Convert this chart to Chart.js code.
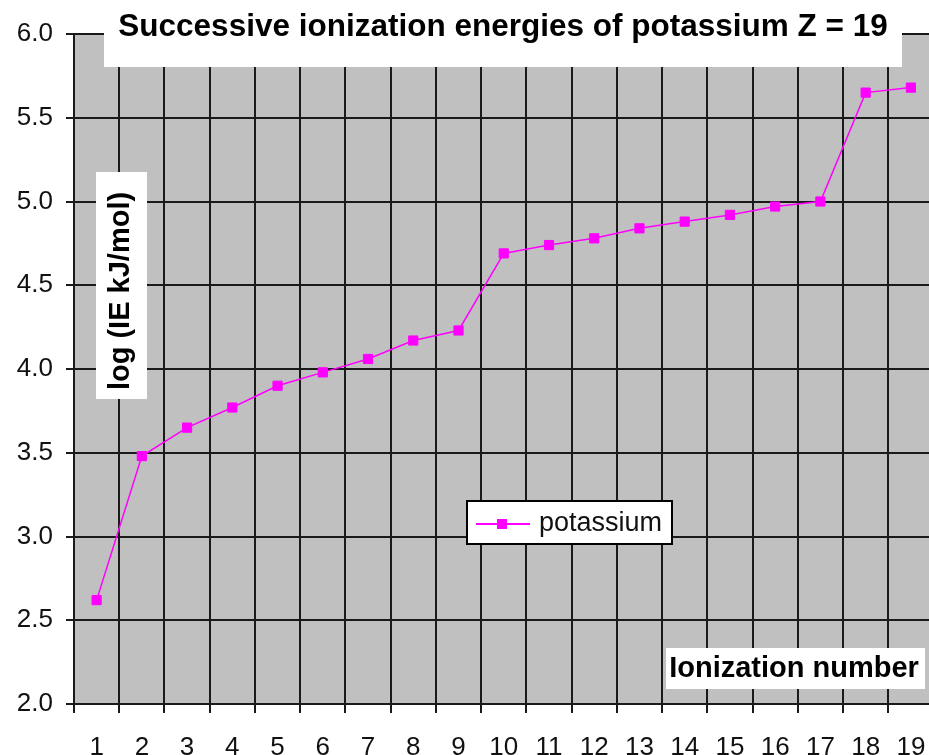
<!DOCTYPE html>
<html><head><meta charset="utf-8">
<script src="https://cdn.jsdelivr.net/npm/chart.js@4"></script>
<style>
html,body{margin:0;padding:0;background:#fff;overflow:hidden}
#wrap{width:929px;height:755px;overflow:hidden;position:relative}
#wrap canvas{position:absolute;left:0;top:0}
</style></head>
<body><div id="wrap"><canvas id="c" width="941" height="755" style="width:941px;height:755px"></canvas></div>
<script>
const ionizationNumbers = ['1','2','3','4','5','6','7','8','9','10','11','12','13','14','15','16','17','18','19'];
const logIE = [2.62, 3.48, 3.65, 3.77, 3.90, 3.98, 4.06, 4.17, 4.23, 4.69, 4.74, 4.78, 4.84, 4.88, 4.92, 4.97, 5.00, 5.65, 5.68];
const seriesName = 'potassium';
const chartTitle = 'Successive ionization energies of potassium Z = 19';
const yTitle = 'log (IE kJ/mol)';
const xTitle = 'Ionization number';
const yMin = 2.0, yMax = 6.0, yStep = 0.5;

const GRID = '#1a1a1a';
const MAGENTA = '#FF00FF';

const overlay = {
  id: 'overlay',
  beforeDraw(chart) {
    const {ctx, chartArea: a} = chart;
    ctx.save();
    ctx.fillStyle = '#C0C0C0';
    ctx.fillRect(a.left, a.top, a.right - a.left, a.bottom - a.top);
    ctx.restore();
  },
  afterDraw(chart) {
    const {ctx} = chart;
    ctx.save();
    // title box
    ctx.fillStyle = '#fff';
    ctx.fillRect(104, 0, 798, 67);
    ctx.fillStyle = '#000';
    ctx.font = 'bold 31.5px "Liberation Sans", Arial, sans-serif';
    ctx.textAlign = 'center';
    ctx.textBaseline = 'middle';
    ctx.fillText(chartTitle, 503, 27);
    // y title
    ctx.fillStyle = '#fff';
    ctx.fillRect(96, 172, 51, 227);
    ctx.save();
    ctx.translate(121, 291);
    ctx.rotate(-Math.PI / 2);
    ctx.fillStyle = '#000';
    ctx.font = 'bold 29px "Liberation Sans", Arial, sans-serif';
    ctx.fillText(yTitle, 0, 0);
    ctx.restore();
    // x title
    ctx.fillStyle = '#fff';
    ctx.fillRect(666, 648, 259, 41);
    ctx.fillStyle = '#000';
    ctx.font = 'bold 29px "Liberation Sans", Arial, sans-serif';
    ctx.fillText(xTitle, 794, 669);
    // legend
    const ds = chart.data.datasets[0];
    ctx.fillStyle = '#fff';
    ctx.fillRect(467, 501, 205, 43);
    ctx.strokeStyle = '#000';
    ctx.lineWidth = 2;
    ctx.strokeRect(467, 501, 205, 43);
    ctx.strokeStyle = ds.borderColor;
    ctx.lineWidth = 2;
    ctx.beginPath(); ctx.moveTo(476, 524); ctx.lineTo(530, 524); ctx.stroke();
    ctx.fillStyle = ds.backgroundColor;
    ctx.fillRect(497, 519, 10, 10);
    ctx.fillStyle = '#111';
    ctx.textAlign = 'left';
    ctx.font = '27px "Liberation Sans", Arial, sans-serif';
    ctx.fillText(ds.label, 539, 524);
    ctx.restore();
  }
};

new Chart(document.getElementById('c'), {
  type: 'line',
  data: {
    labels: ionizationNumbers,
    datasets: [{
      label: seriesName,
      data: logIE,
      borderColor: MAGENTA,
      backgroundColor: MAGENTA,
      borderWidth: 1.5,
      pointStyle: 'rect',
      pointRadius: 6.5,
      pointHoverRadius: 6.5,
      pointBorderWidth: 1,
      tension: 0,
      fill: false
    }]
  },
  options: {
    responsive: false,
    animation: false,
    devicePixelRatio: 1,
    layout: {padding: {top: 34, left: 0, right: 0, bottom: 0}},
    plugins: {legend: {display: false}, tooltip: {enabled: false}, title: {display: false}},
    scales: {
      x: {
        type: 'category',
        offset: true,
        grid: {offset: true, color: GRID, lineWidth: 2, tickLength: 9, drawTicks: true},
        border: {color: GRID, width: 2},
        ticks: {color: '#111', font: {family: '"Liberation Sans", Arial, sans-serif', size: 26}, padding: 19, maxRotation: 0, autoSkip: false},
        afterFit(s) { s.height = 51; s.paddingLeft = 0; s.paddingRight = 0; }
      },
      y: {
        min: yMin, max: yMax,
        grid: {color: GRID, lineWidth: 2, tickLength: 8, drawTicks: true},
        border: {color: GRID, width: 2},
        ticks: {stepSize: yStep, color: '#111', font: {family: '"Liberation Sans", Arial, sans-serif', size: 26}, padding: 13,
          callback: v => Number(v).toFixed(1)},
        afterFit(s) { s.width = 74; s.paddingTop = 0; s.paddingBottom = 0; }
      }
    }
  },
  plugins: [overlay]
});
</script>
</body></html>
